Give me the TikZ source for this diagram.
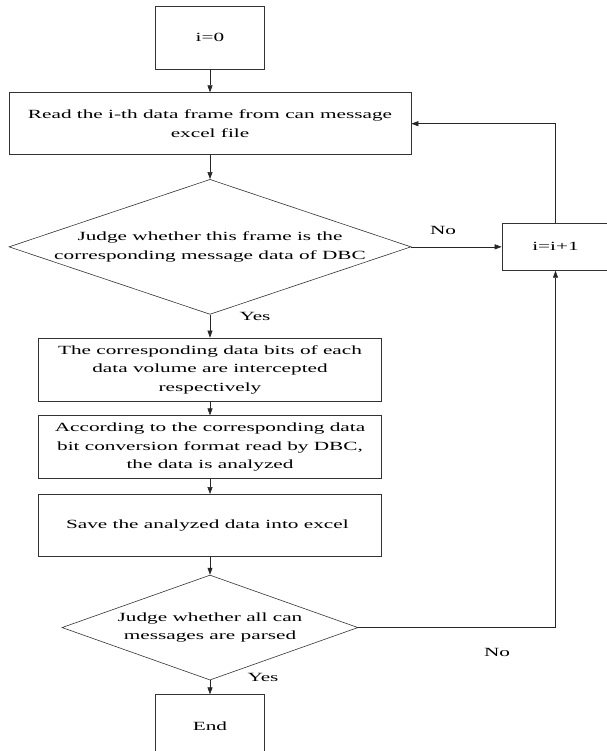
\documentclass[tikz,border=0pt]{standalone}
\usepackage{fontspec}
\setmainfont{Liberation Serif}[FakeStretch=1.7]
\usetikzlibrary{shapes.geometric, arrows.meta, positioning}

\begin{document}
\begin{tikzpicture}[
  x=1pt, y=-1pt,
  every node/.style={font=\fontsize{12.5}{18.5}\selectfont, align=center},
  box/.style={draw=black!80, line width=0.7pt, inner sep=2pt},
  decision/.style={diamond, draw=black!80, line width=0.6pt, inner sep=0pt},
  flow/.style={-{Triangle[length=7pt,width=5pt]}, black!85, line width=0.6pt}
]
  \useasboundingbox (0,0) rectangle (606,751);

  % main column
  \node[box, minimum width=109pt, minimum height=63pt] (init) at (210,37.5) {i=0};
  \node[box, minimum width=402pt, minimum height=62pt, below=23pt of init] (read) {
    Read the i-th data frame from can message\\
    excel file
  };
  \node[decision, minimum width=402pt, minimum height=135pt, below=24pt of read] (judge1) {};
  \node (judge1txt) at (judge1) {
    Judge whether this frame is the\\
    corresponding message data of DBC
  };
  \node[box, minimum width=343pt, minimum height=63pt, below=23pt of judge1] (bits) {
    The corresponding data bits of each\\
    data volume are intercepted\\
    respectively
  };
  \node[box, minimum width=343pt, minimum height=63pt, below=14pt of bits] (parse) {
    According to the corresponding data\\
    bit conversion format read by DBC,\\
    the data is analyzed
  };
  \node[box, minimum width=343pt, minimum height=62pt, below=15pt of parse] (save) {
    Save the analyzed data into excel
  };
  \node[decision, minimum width=296pt, minimum height=105pt, below=18pt of save] (judge2) {};
  \node (judge2txt) at (judge2) {
    Judge whether all can\\
    messages are parsed
  };
  \node[box, minimum width=109pt, minimum height=63pt, below=14pt of judge2] (stop) {End};

  % loop counter, level with the first test
  \node[box, minimum width=107pt, minimum height=47pt] (inc) at (judge1 -| 555.5,0) {i=i+1};

  % branch labels
  \node (no1) at (443,230) {No};
  \node (yes1) at (255,316) {Yes};
  \node (no2) at (497,652) {No};
  \node (yes2) at (263,677) {Yes};

  \draw[flow] (init) -- (read);
  \draw[flow] (read) -- (judge1);
  \draw[flow] (judge1) -- (bits);
  \draw[flow] (bits) -- (parse);
  \draw[flow] (parse) -- (save);
  \draw[flow] (save) -- (judge2);
  \draw[flow] (judge2) -- (stop);
  \draw[flow] (judge1.east) -- (inc.west);
  \draw[flow] (judge2.east) -| (inc.south);
  \draw[flow] (inc.north) |- (read.east);
\end{tikzpicture}
\end{document}
